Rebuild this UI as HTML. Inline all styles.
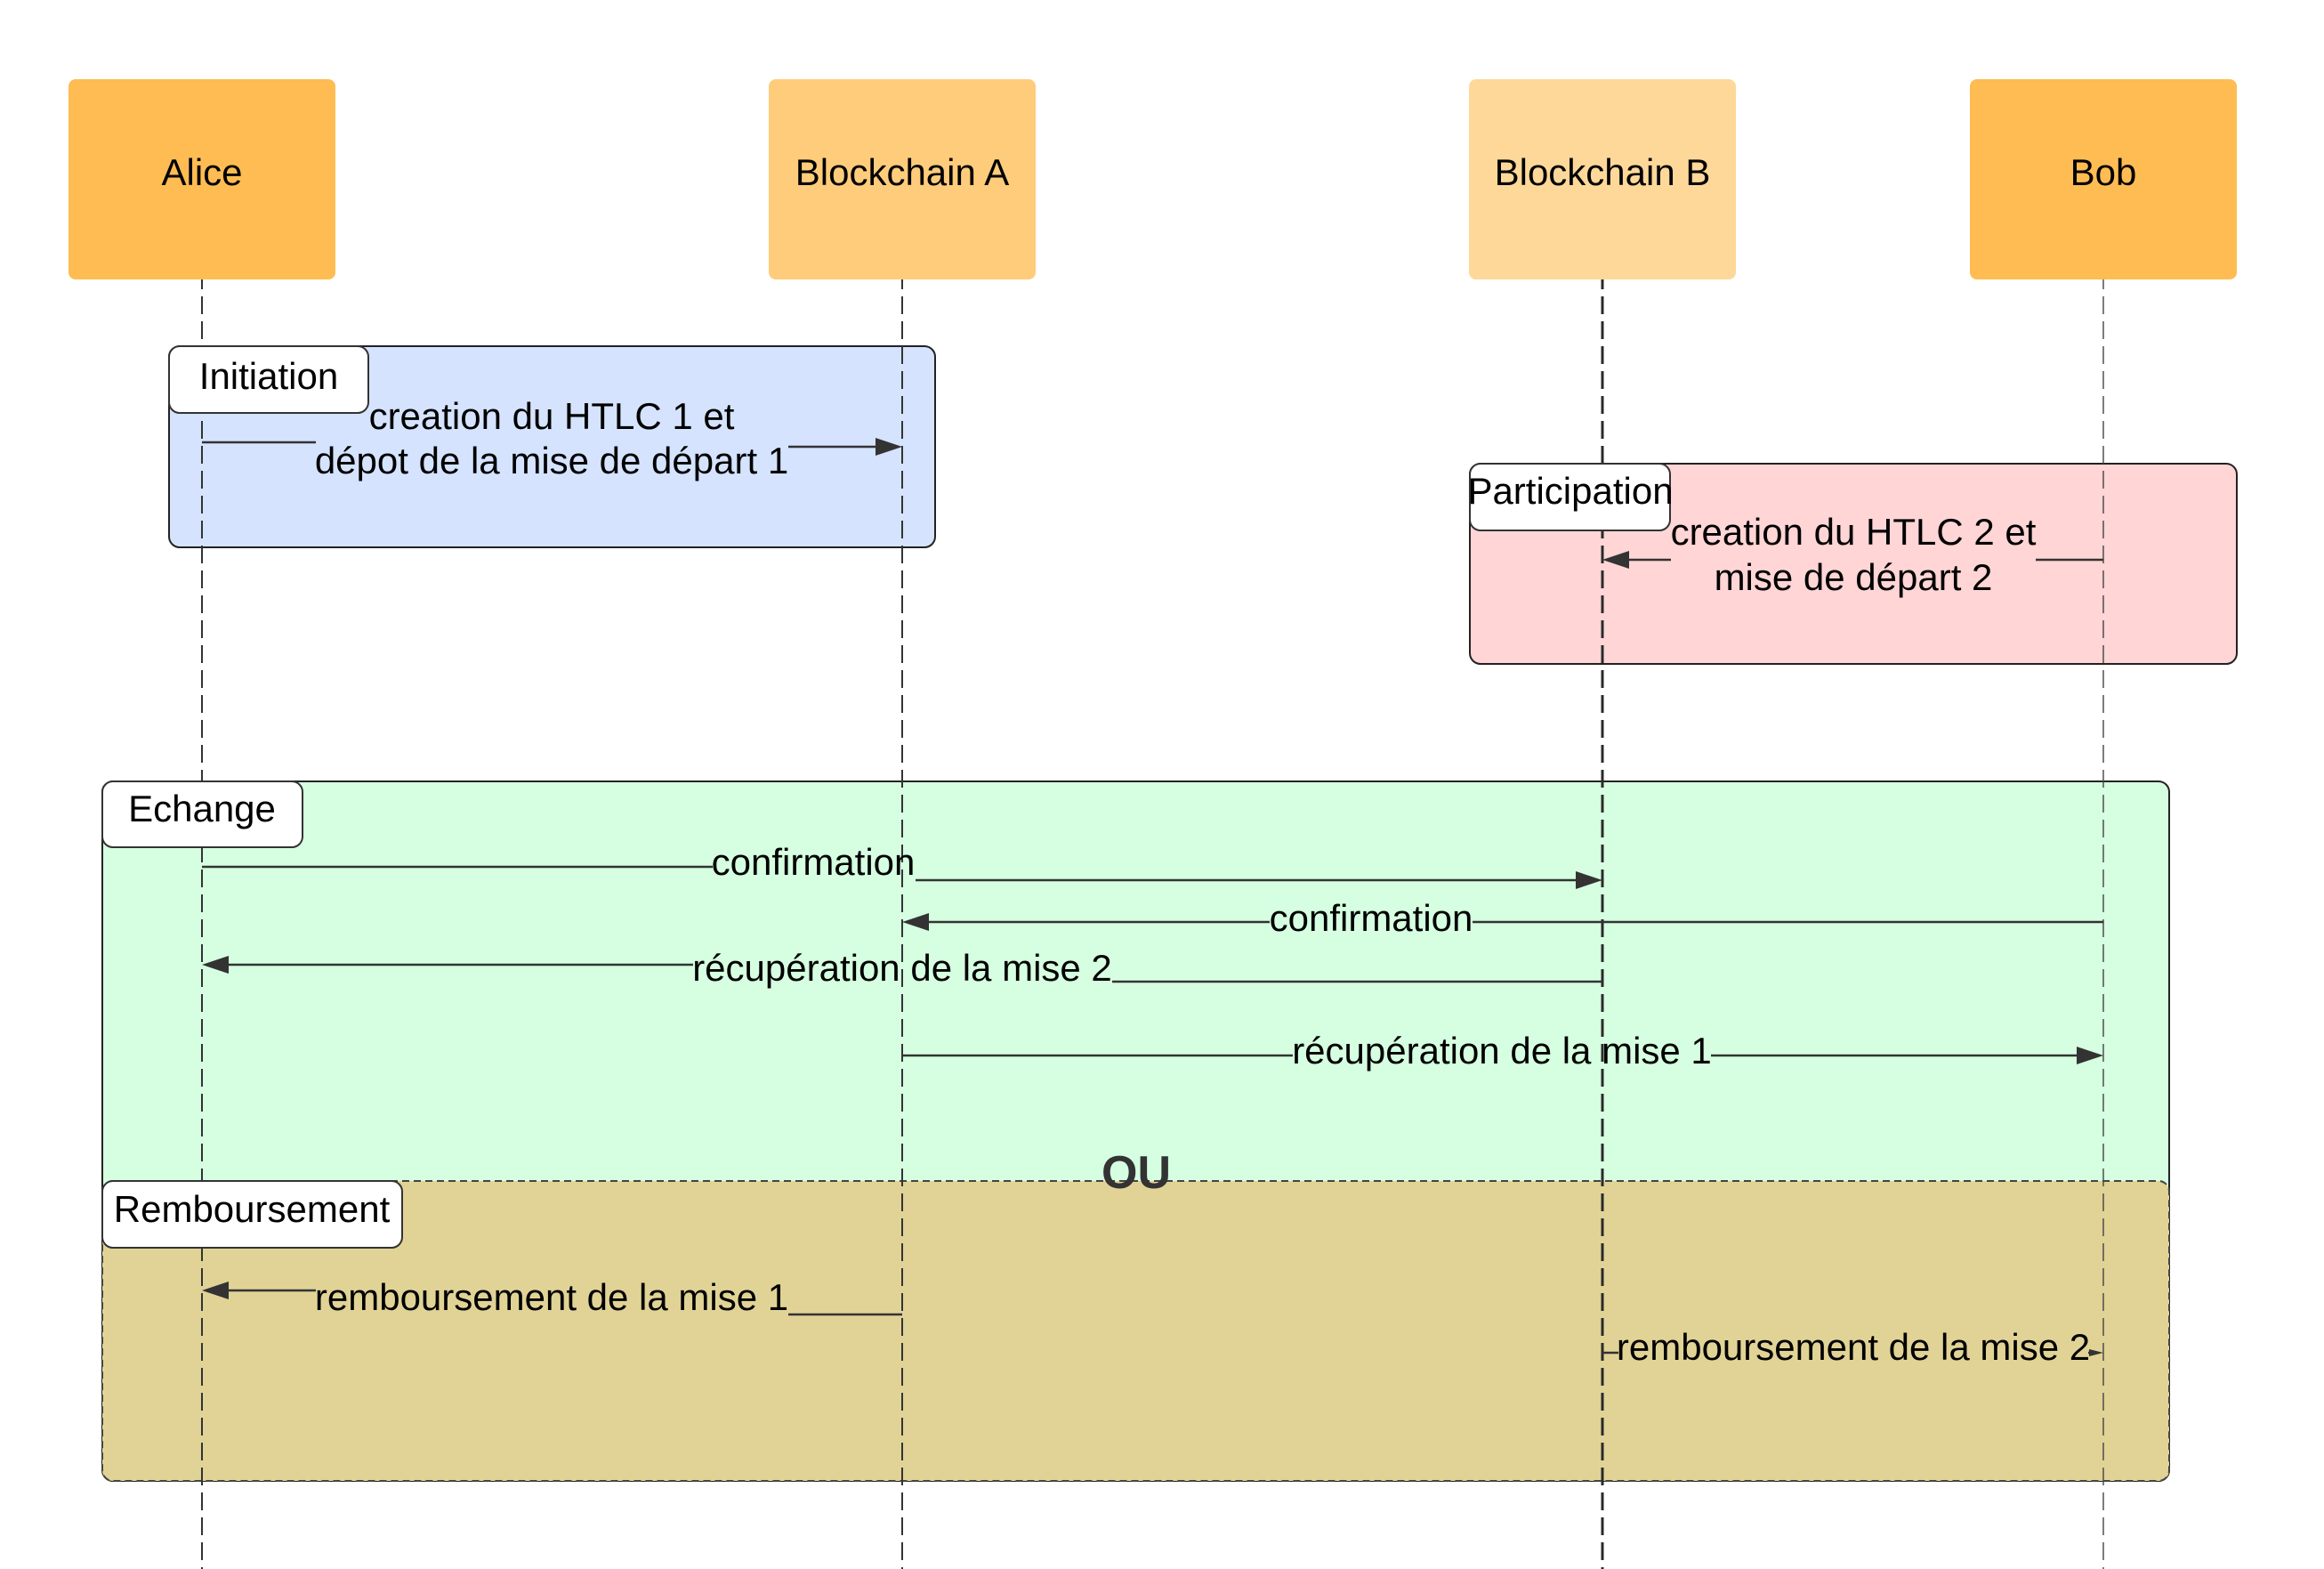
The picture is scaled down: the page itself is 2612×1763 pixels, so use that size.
<!DOCTYPE html>
<html>
<head>
<meta charset="utf-8">
<style>
  html,body{margin:0;padding:0;background:#fff;}
  svg{display:block;}
  text{font-family:"Liberation Sans", Arial, sans-serif;fill:#000;}
</style>
</head>
<body>
<svg width="2612" height="1763" viewBox="0 0 2612 1763" xmlns="http://www.w3.org/2000/svg">
  <rect x="0" y="0" width="2612" height="1763" fill="#ffffff"/>

  <!-- Participant boxes -->
  <rect x="77" y="89" width="300" height="225" rx="8" fill="#FEBC52"/>
  <rect x="864" y="89" width="300" height="225" rx="8" fill="#FECC7B"/>
  <rect x="1651" y="89" width="300" height="225" rx="8" fill="#FED899"/>
  <rect x="2214" y="89" width="300" height="225" rx="8" fill="#FEBC52"/>
  <text x="227" y="208" font-size="42" text-anchor="middle">Alice</text>
  <text x="1014" y="208" font-size="42" text-anchor="middle">Blockchain A</text>
  <text x="1801" y="208" font-size="42" text-anchor="middle">Blockchain B</text>
  <text x="2364" y="208" font-size="42" text-anchor="middle">Bob</text>

  <!-- Frames -->
  <rect x="190" y="389" width="861" height="226" rx="12" fill="#D5E3FE" stroke="#222" stroke-width="2"/>
  <rect x="1652" y="521" width="862" height="225" rx="12" fill="#FFD5D6" stroke="#222" stroke-width="2"/>
  <rect x="115" y="878" width="2323" height="786" rx="12" fill="#D6FFE1" stroke="#222" stroke-width="2"/>
  <rect x="115" y="1327" width="2323" height="337" rx="12" fill="#E1D396" stroke="#444" stroke-width="2" stroke-dasharray="8 5"/>
  <path d="M127 1327 H2426" stroke="#444" stroke-width="2" stroke-dasharray="8 5" fill="none"/>

  <!-- Lifelines -->
  <line x1="227" y1="314" x2="227" y2="1763" stroke="#333" stroke-width="2" stroke-dasharray="20 8" stroke-dashoffset="9"/>
  <line x1="1014" y1="314" x2="1014" y2="1763" stroke="#333" stroke-width="2" stroke-dasharray="20 8" stroke-dashoffset="9"/>
  <line x1="1801" y1="314" x2="1801" y2="1763" stroke="#2a2a2a" stroke-width="3" stroke-dasharray="20 8" stroke-dashoffset="9"/>
  <line x1="2364" y1="314" x2="2364" y2="1763" stroke="#444" stroke-width="1.4" stroke-dasharray="20 8" stroke-dashoffset="9"/>

  <!-- Frame labels -->
  <rect x="190" y="389" width="224" height="75" rx="12" fill="#fff" stroke="#333" stroke-width="2"/>
  <text x="302" y="437" font-size="42" text-anchor="middle">Initiation</text>
  <rect x="1652" y="521" width="225" height="75" rx="12" fill="#fff" stroke="#333" stroke-width="2"/>
  <text x="1765" y="566" font-size="42" text-anchor="middle">Participation</text>
  <rect x="115" y="878" width="225" height="74" rx="12" fill="#fff" stroke="#333" stroke-width="2"/>
  <text x="227" y="923" font-size="42" text-anchor="middle">Echange</text>
  <rect x="115" y="1327" width="337" height="75" rx="12" fill="#fff" stroke="#333" stroke-width="2"/>
  <text x="283" y="1373" font-size="42" text-anchor="middle">Remboursement</text>

  <!-- OU -->
  <text x="1277" y="1335" font-size="52" font-weight="bold" text-anchor="middle" style="fill:#333">OU</text>

  <g stroke="#333" stroke-width="2.6" fill="none">
    <!-- Initiation -->
    <line x1="227" y1="497" x2="355" y2="497"/>
    <line x1="886" y1="502" x2="986" y2="502"/>
    <!-- Participation -->
    <line x1="2364" y1="629" x2="2288" y2="629"/>
    <line x1="1878" y1="629" x2="1829" y2="629"/>
    <!-- confirmation 1 -->
    <line x1="227" y1="974" x2="801" y2="974"/>
    <line x1="1029" y1="989" x2="1773" y2="989"/>
    <!-- confirmation 2 -->
    <line x1="2364" y1="1036" x2="1655" y2="1036"/>
    <line x1="1427" y1="1036" x2="1042" y2="1036"/>
    <!-- recuperation 2 -->
    <line x1="1801" y1="1103" x2="1250" y2="1103"/>
    <line x1="779" y1="1084" x2="255" y2="1084"/>
    <!-- recuperation 1 -->
    <line x1="1014" y1="1186" x2="1453" y2="1186"/>
    <line x1="1923" y1="1186" x2="2336" y2="1186"/>
    <!-- remboursement 1 -->
    <line x1="1014" y1="1477" x2="886" y2="1477"/>
    <line x1="355" y1="1450" x2="255" y2="1450"/>
    <!-- remboursement 2 -->
    <line x1="1801" y1="1520" x2="1819" y2="1520"/>
    <line x1="2347" y1="1520" x2="2352" y2="1520"/>
  </g>

  <!-- Arrowheads -->
  <g fill="#333">
    <polygon points="1014,502 984,492 984,512"/>
    <polygon points="1801,629 1831,619 1831,639"/>
    <polygon points="1801,989 1771,979 1771,999"/>
    <polygon points="1014,1036 1044,1026 1044,1046"/>
    <polygon points="227,1084 257,1074 257,1094"/>
    <polygon points="2364,1186 2334,1176 2334,1196"/>
    <polygon points="227,1450 257,1440 257,1460"/>
    <polygon points="2364,1520 2348,1516 2348,1524"/>
  </g>

  <!-- Message labels -->
  <text x="620" y="482" font-size="42" text-anchor="middle">creation du HTLC 1 et</text>
  <text x="620" y="532" font-size="42" text-anchor="middle">dépot de la mise de départ 1</text>
  <text x="2083" y="612" font-size="42" text-anchor="middle">creation du HTLC 2 et</text>
  <text x="2083" y="663" font-size="42" text-anchor="middle">mise de départ 2</text>
  <text x="914" y="983" font-size="42" text-anchor="middle">confirmation</text>
  <text x="1541" y="1046" font-size="42" text-anchor="middle">confirmation</text>
  <text x="1014" y="1102" font-size="42" text-anchor="middle">récupération de la mise 2</text>
  <text x="1688" y="1195" font-size="42" text-anchor="middle">récupération de la mise 1</text>
  <text x="620" y="1472" font-size="42" text-anchor="middle">remboursement de la mise 1</text>
  <text x="2083" y="1528" font-size="42" text-anchor="middle">remboursement de la mise 2</text>
</svg>
</body>
</html>
